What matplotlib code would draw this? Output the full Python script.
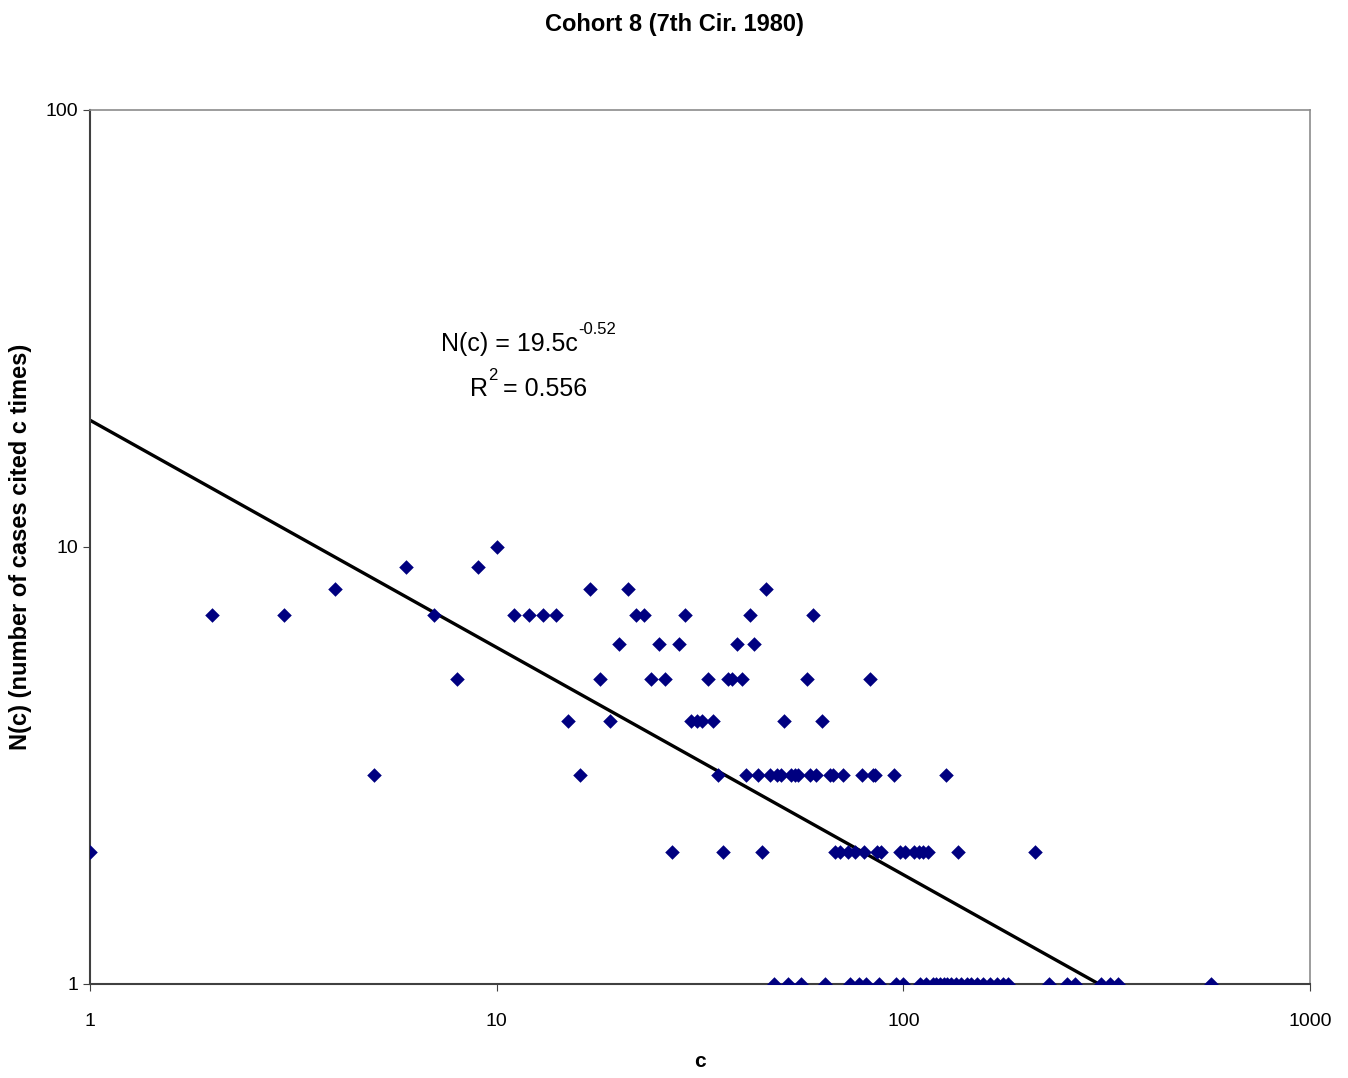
import numpy as np
import matplotlib
matplotlib.use("Agg")
import matplotlib.pyplot as plt

plt.rcParams["font.family"] = ["Liberation Sans", "DejaVu Sans"]

# citation count c and number of cases N(c), grouped by N
c_n10 = [10]
c_n9 = [6, 9]
c_n8 = [4, 17, 21, 46]
c_n7 = [2, 3, 7, 11, 12, 13, 14, 22, 23, 29, 42, 60]
c_n6 = [20, 25, 28, 39, 43]
c_n5 = [8, 18, 24, 26, 33, 37, 38, 40, 58, 83]
c_n4 = [15, 19, 30, 31, 32, 34, 51, 63]
c_n3 = [5, 16, 35, 41, 44, 47, 49, 50, 53, 54, 55, 59, 61, 66, 67, 71, 79,
        84, 85, 95, 127]
c_n2 = [1, 27, 36, 45, 68, 70, 73, 76, 80, 86, 88, 98, 101, 106, 109, 112,
        115, 136, 211]
c_n1 = [48, 52, 56, 64, 74, 78, 81, 87, 96, 100, 110, 114, 118, 120, 123,
        126, 128, 131, 135, 139, 143, 147, 152, 157, 163, 170, 176, 181,
        228, 252, 264, 307, 322, 338, 570]

groups = [(10, c_n10), (9, c_n9), (8, c_n8), (7, c_n7), (6, c_n6),
          (5, c_n5), (4, c_n4), (3, c_n3), (2, c_n2), (1, c_n1)]

# power-law fit shown on the chart
fit_a = 19.5
fit_b = -0.52
fit_r2 = 0.556

cs = []
ns = []
for n, clist in groups:
    cs.extend(clist)
    ns.extend([n] * len(clist))
cs = np.array(cs, dtype=float)
ns = np.array(ns, dtype=float)

fig = plt.figure(figsize=(13.48, 10.78), dpi=100)
ax = fig.add_axes([0.0668, 0.0872, 0.9050, 0.8108])

ax.set_xscale("log")
ax.set_yscale("log")

ax.scatter(cs, ns, marker="D", s=55, color="#000080", zorder=3, linewidths=0)

x_fit = np.logspace(0, np.log10(cs.max()), 200)
ax.plot(x_fit, fit_a * x_fit ** fit_b, color="black", lw=2.4, zorder=2)

ax.set_xlim(1, 1000)
ax.set_ylim(1, 100)
ax.set_xticks([1, 10, 100, 1000])
ax.set_xticklabels(["1", "10", "100", "1000"])
ax.set_yticks([1, 10, 100])
ax.set_yticklabels(["1", "10", "100"])
ax.minorticks_off()
ax.tick_params(axis="both", labelsize=14, length=5, direction="out",
               color="#404040")
ax.tick_params(axis="x", pad=16)

for side in ["top", "right"]:
    ax.spines[side].set_color("#8c8c8c")
    ax.spines[side].set_linewidth(1.2)
for side in ["left", "bottom"]:
    ax.spines[side].set_color("#404040")
    ax.spines[side].set_linewidth(1.5)

ax.set_xlabel("c", fontsize=15, fontweight="bold", labelpad=16)
ax.set_ylabel("N(c) (number of cases cited c times)", fontsize=17,
              fontweight="bold")
ax.yaxis.set_label_coords(-0.0475, 0.5)

fig.suptitle("Cohort 8 (7th Cir. 1980)", fontsize=17, fontweight="bold",
             y=0.988)

# fit equation, exponent drawn as a separate raised text (hyphen, like Excel)
eq = ax.text(0.344, 0.732, "N(c) = 19.5c", transform=ax.transAxes,
             ha="center", va="center", fontsize=18)
ax.annotate(f"{fit_b:.2f}", xy=(1, 0.8), xycoords=eq, ha="left",
            va="bottom", fontsize=12)
r2 = ax.text(0.326, 0.681, "R", transform=ax.transAxes,
             ha="right", va="center", fontsize=18)
ax.annotate("2", xy=(1, 0.72), xycoords=r2, ha="left", va="bottom",
            fontsize=12)
ax.annotate(f" = {fit_r2:.3f}", xy=(1, 0.5), xycoords=r2, xytext=(6, 0),
            textcoords="offset points", ha="left", va="center", fontsize=18)

fig.savefig("out.png", dpi=100, facecolor="white")
